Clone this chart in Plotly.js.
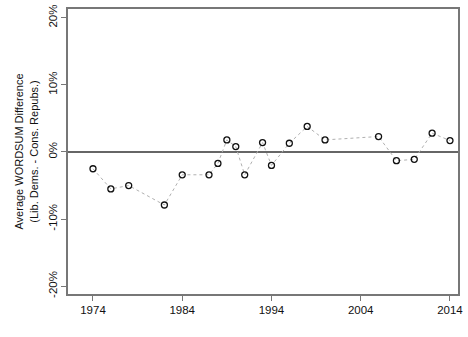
<!DOCTYPE html>
<html><head><meta charset="utf-8">
<script src="https://cdn.plot.ly/plotly-3.0.1.min.js"></script>
<style>html,body{margin:0;padding:0;background:#fff}#c{width:468px;height:337px}</style>
</head><body><div id="c"></div>
<script>
const years = [1974,1976,1978,1982,1984,1987,1988,1989,1990,1991,1993,1994,1996,1998,2000,2006,2008,2010,2012,2014];
const diffs = [-2.5,-5.5,-5.0,-7.9,-3.4,-3.4,-1.7,1.8,0.8,-3.4,1.4,-2.0,1.3,3.8,1.8,2.3,-1.3,-1.1,2.8,1.7];
const xTicks = [1974,1984,1994,2004,2014];
const yTicks = [-20,-10,0,10,20];
const yTickText = ['-20%','-10%','0%','10%','20%'];

const trace = {
  x: years, y: diffs, type: 'scatter', mode: 'lines+markers',
  line: {color: '#b0b0b0', width: 1, dash: 'dot'},
  marker: {symbol: 'circle-open', size: 6, color: '#111', line: {width: 1.3, color: '#111'}},
  showlegend: false, hoverinfo: 'none'
};
const layout = {
  width: 468, height: 337,
  margin: {l: 68, r: 10, t: 9, b: 43},
  paper_bgcolor: '#fff', plot_bgcolor: '#fff',
  font: {family: 'Liberation Sans, Arial, sans-serif', size: 11.5, color: '#111'},
  xaxis: {
    range: [1971.2, 2014.9], tickvals: xTicks, ticktext: xTicks.map(String),
    showgrid: false, zeroline: false, showline: true, mirror: true,
    linecolor: '#777', linewidth: 1.6, ticks: 'outside', ticklen: 5, tickcolor: '#777',
    tickfont: {size: 11.5, color: '#111'}
  },
  yaxis: {
    range: [-21.16, 21.3], tickvals: yTicks, ticktext: yTickText, tickangle: -90,
    showgrid: false, zeroline: true, zerolinecolor: '#666', zerolinewidth: 1.4,
    showline: true, mirror: true, linecolor: '#777', linewidth: 1.6,
    ticks: 'outside', ticklen: 5, tickcolor: '#777',
    tickfont: {size: 11.5, color: '#111'},
    title: {text: 'Average WORDSUM Difference<br>(Lib. Dems. - Cons. Repubs.)', font: {size: 11, color: '#111'}, standoff: 6}
  }
};
Plotly.newPlot('c', [trace], layout, {staticPlot: true, displayModeBar: false});
</script></body></html>
